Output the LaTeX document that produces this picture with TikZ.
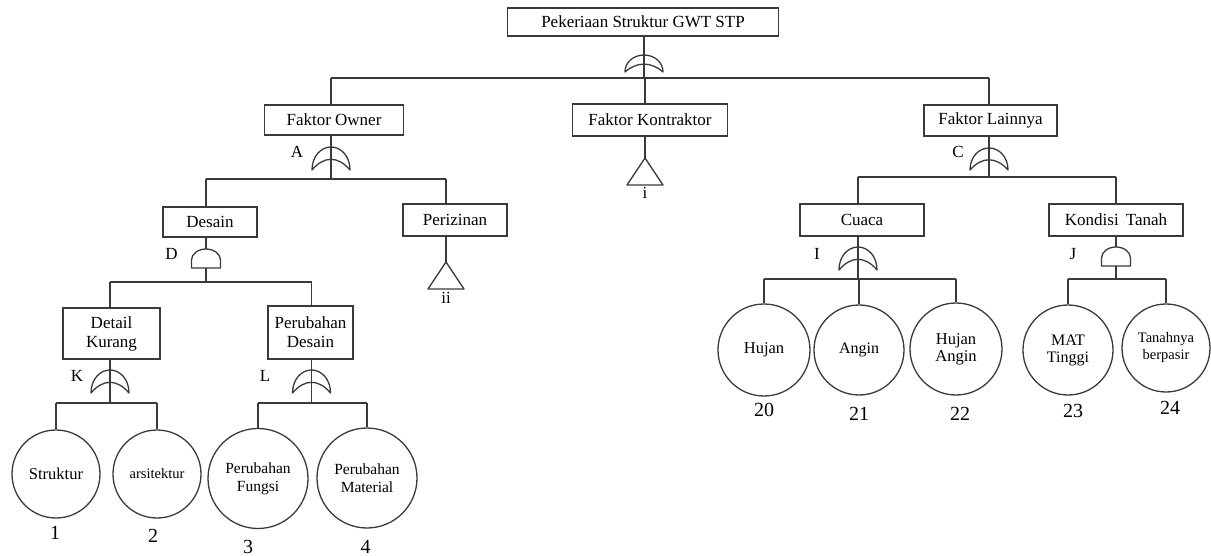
\documentclass[tikz,border=0pt]{standalone}
\usepackage{fontspec}
\setmainfont{Liberation Serif}
\definecolor{linecol}{HTML}{3A3A3A}
\tikzset{
  pics/orgate/.default=23,
  pics/orgate/.style={code={
    \draw[gate] (-19,0) .. controls (-19,-0.6*#1) and (-10,-#1) .. (0,-#1)
      .. controls (10,-#1) and (19,-0.6*#1) .. (19,0)
      .. controls (7,-0.62*#1) and (-7,-0.62*#1) .. (-19,0) -- cycle;
    \coordinate (-top) at (0,-#1);
    \coordinate (-bot) at (0,0);
  }},
  pics/andgate/.style={code={
    \draw[gate] (-14.5,0) -- (-14.5,-8) .. controls (-14.5,-14) and (-8,-19) .. (0,-19)
      .. controls (8,-19) and (14.5,-14) .. (14.5,-8) -- (14.5,0) -- cycle;
    \coordinate (-top) at (0,-19);
    \coordinate (-bot) at (0,0);
  }},
  pics/transfer/.style={code={
    \draw[gate] (-18,0) -- (0,-27) -- (18,0) -- cycle;
    \coordinate (-top) at (0,-27);
    \coordinate (-bot) at (0,0);
  }},
}
\begin{document}
\begin{tikzpicture}[x=1pt,y=-1pt,
  line/.style={draw=linecol, line width=1.3pt},
  gate/.style={draw=linecol, line width=1.3pt, line join=round},
  box/.style={draw=linecol, line width=1.3pt, inner sep=0pt, align=center,
    font=\fontsize{17}{19}\selectfont},
  event/.style={circle, draw=linecol, line width=1.3pt, inner sep=0pt, align=center,
    font=\fontsize{15.5}{18}\selectfont},
  num/.style={inner sep=0pt, font=\fontsize{20}{22}\selectfont},
  tag/.style={inner sep=0pt, font=\fontsize{17}{19}\selectfont},
]
\path[use as bounding box] (0,0) rectangle (1211,556);

% ---- events (boxes) ----
\node[box, minimum width=271pt, minimum height=28pt] (top) at (643,22) {Pekeriaan Struktur GWT STP};
\node[box, minimum width=139pt, minimum height=30pt] (FO) at (334,120) {Faktor Owner};
\node[box, minimum width=155pt, minimum height=32pt] (FK) at (650,120) {Faktor Kontraktor};
\node[box, minimum width=133pt, minimum height=31pt] (FL) at (990.5,120.5) {Faktor Lainnya};
\node[box, minimum width=94pt, minimum height=30pt] (DS) at (210,222) {Desain};
\node[box, minimum width=104pt, minimum height=32pt] (PZ) at (455,220) {Perizinan};
\node[box, minimum width=97pt, minimum height=51pt] (DK) at (111.5,333.5) {Detail\\Kurang};
\node[box, minimum width=85pt, minimum height=53pt] (PD) at (310.5,332.5) {Perubahan\\Desain};
\node[box, minimum width=124pt, minimum height=32pt] (CU) at (862,220) {Cuaca};
\node[box, minimum width=134pt, minimum height=32pt] (KT) at (1116,220) {Kondisi\, Tanah};

% ---- basic events (circles) ----
\node[event, minimum size=88pt, font=\fontsize{16.5}{18}\selectfont] (c1) at (56,474) {Struktur};
\node[event, minimum size=88pt, font=\fontsize{14.5}{17}\selectfont] (c2) at (157,474) {arsitektur};
\node[event, minimum size=100pt] (c3) at (258,478.5) {Perubahan\\Fungsi};
\node[event, minimum size=100pt] (c4) at (367,478) {Perubahan\\Material};
\node[event, minimum size=92pt, font=\fontsize{16.5}{17}\selectfont] (c20) at (764,350) {Hujan};
\node[event, minimum size=90pt, font=\fontsize{16}{17}\selectfont] (c21) at (859,350) {Angin};
\node[event, minimum size=92pt, font=\fontsize{16.5}{17}\selectfont] (c22) at (956,349) {Hujan\\Angin};
\node[event, minimum size=90pt, font=\fontsize{16}{17}\selectfont] (c23) at (1068,350) {MAT\\Tinggi};
\node[event, minimum size=88pt, font=\fontsize{14.5}{17}\selectfont] (c24) at (1166,348) {Tanahnya\\berpasir};

% ---- gates ----
\pic (gT) at (644,72) {orgate=17};
\pic (gA) at (331,170) {orgate};
\pic (gC) at (989,170) {orgate=22};
\pic (gD) at (206,268) {andgate};
\pic (gK) at (110,393) {orgate};
\pic (gL) at (311.5,393) {orgate};
\pic (gI) at (858,270) {orgate};
\pic (gJ) at (1116,266) {andgate};
\pic (tK) at (645,185) {transfer};
\pic (tP) at (446,289) {transfer};

% ---- bus levels ----
\coordinate (bT) at (0,78);
\coordinate (bA) at (0,179);
\coordinate (bC) at (0,177);
\coordinate (bD) at (0,282);
\coordinate (bK) at (0,403);
\coordinate (bL) at (0,403);
\coordinate (bI) at (0,279);
\coordinate (bJ) at (0,279);

% ---- connectors ----
% top event
\draw[line] (top.south -| gT-bot) -- (gT-bot |- bT);
\draw[line] (gA-bot |- bT) -- (gC-bot |- bT);
\draw[line] (gA-bot |- bT) -- (FO.north -| gA-bot);
\draw[line] (tK-top |- bT) -- (FK.north -| tK-top);
\draw[line] (gC-bot |- bT) -- (FL.north -| gC-bot);
% Faktor Owner
\draw[line] (FO.south -| gA-bot) -- (gA-bot |- bA);
\draw[line] (gD-bot |- bA) -- (tP-top |- bA);
\draw[line] (gD-bot |- bA) -- (DS.north -| gD-bot);
\draw[line] (tP-top |- bA) -- (PZ.north -| tP-top);
% Faktor Kontraktor
\draw[line] (FK.south -| tK-top) -- (tK-top);
% Perizinan
\draw[line] (PZ.south -| tP-top) -- (tP-top);
% Desain
\draw[line] (DS.south -| gD-top) -- (gD-top);
\draw[line] (gD-bot) -- (gD-bot |- bD);
\draw[line] (gK-bot |- bD) -- (gL-bot |- bD);
\draw[line] (gK-bot |- bD) -- (DK.north -| gK-bot);
\draw[line] (gL-bot |- bD) -- (PD.north -| gL-bot);
% Detail Kurang
\draw[line] (DK.south -| gK-bot) -- (gK-bot |- bK);
\draw[line] (c1.north |- bK) -- (c2.north |- bK);
\draw[line] (c1.north |- bK) -- (c1.north);
\draw[line] (c2.north |- bK) -- (c2.north);
% Perubahan Desain
\draw[line] (PD.south -| gL-bot) -- (gL-bot |- bL);
\draw[line] (c3.north |- bL) -- (c4.north |- bL);
\draw[line] (c3.north |- bL) -- (c3.north);
\draw[line] (c4.north |- bL) -- (c4.north);
% Faktor Lainnya
\draw[line] (FL.south -| gC-bot) -- (gC-bot |- bC);
\draw[line] (gI-bot |- bC) -- (gJ-bot |- bC);
\draw[line] (gI-bot |- bC) -- (CU.north -| gI-bot);
\draw[line] (gJ-bot |- bC) -- (KT.north -| gJ-bot);
% Cuaca
\draw[line] (CU.south -| gI-bot) -- (gI-bot |- bI);
\draw[line] (c20.north |- bI) -- (c22.north |- bI);
\draw[line] (c20.north |- bI) -- (c20.north);
\draw[line] (c21.north |- bI) -- (c21.north);
\draw[line] (c22.north |- bI) -- (c22.north);
% Kondisi Tanah
\draw[line] (KT.south -| gJ-top) -- (gJ-top);
\draw[line] (gJ-bot) -- (gJ-bot |- bJ);
\draw[line] (c23.north |- bJ) -- (c24.north |- bJ);
\draw[line] (c23.north |- bJ) -- (c23.north);
\draw[line] (c24.north |- bJ) -- (c24.north);

% ---- gate letters ----
\node[tag] (lA) at (297,152) {A};
\node[tag] (lC) at (958,152) {C};
\node[tag] (lD) at (171.5,254) {D};
\node[tag] (lK) at (77,376) {K};
\node[tag] (lL) at (265,376) {L};
\node[tag] (lI) at (817,254) {I};
\node[tag] (lJ) at (1073,254) {J};
\node[tag] (li) at (645,193) {i};
\node[tag] (lii) at (446,298) {ii};

% ---- event numbers ----
\node[num] (n1) at (55,532.5) {1};
\node[num] (n2) at (153,536) {2};
\node[num] (n3) at (248,546.5) {3};
\node[num] (n4) at (365.5,546.5) {4};
\node[num] (n20) at (764,410) {20};
\node[num] (n21) at (859,413.5) {21};
\node[num] (n22) at (960,413.5) {22};
\node[num] (n23) at (1073,410.5) {23};
\node[num] (n24) at (1170,408) {24};
\end{tikzpicture}
\end{document}
